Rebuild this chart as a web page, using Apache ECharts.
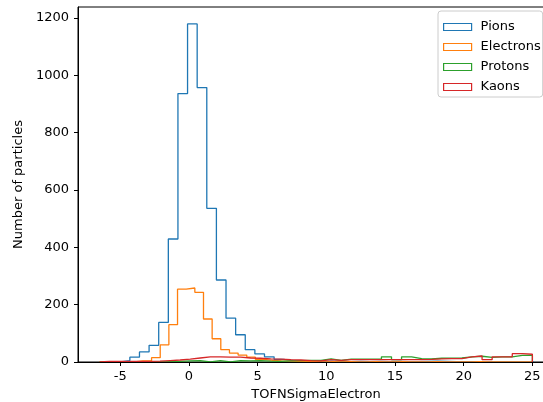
<!DOCTYPE html>
<html>
<head>
<meta charset="utf-8">
<script src="https://cdn.jsdelivr.net/npm/echarts@6/dist/echarts.min.js"></script>
<style>html,body{margin:0;padding:0;background:#fff}#c{width:543px;height:402px}</style>
</head>
<body>
<div id="c"></div>
<script>
// Series names
const seriesNames = ['Pions', 'Electrons', 'Protons', 'Kaons'];
const seriesColors = ['#1f77b4', '#ff7f0e', '#2ca02c', '#d62728'];

// Bin layouts (first edge, bin width) for each histogram
const pionBins = { start: -5.0, width: 0.7 };
const electronBins = { start: -6.5, width: 0.63 };
const protonBins = { start: -6.5, width: 0.7326 };
const kaonBins = { start: -6.5, width: 0.7326 };

// Counts per bin
const pionCounts = [5, 17, 35, 58, 138, 429, 936, 1179, 957, 536, 286, 153, 95, 43, 28, 18, 9, 5, 4, 3, 2, 3, 2, 1, 2, 1, 2, 1, 2, 1, 1, 2, 3, 2, 1, 1, 1, 1, 0, 1, 1, 1, 1];
const electronCounts = [0, 0, 1, 0, 4, 4, 15, 60, 130, 254, 258, 243, 150, 81, 43, 31, 24, 17, 9, 6, 4, 3, 2, 1, 1, 0, 1, 0, 1, 0, 0, 1, 0, 0, 1, 0, 0, 0, 1, 0, 0, 0, 0, 1, 0, 0, 0, 0, 0, 0];
const protonCounts = [0, 0, 0, 0, 1, 0, 1, 2, 4, 5, 0, 5, 0, 5, 4, 5, 3, 2, 4, 5, 6, 6, 11, 6, 10, 10, 10, 10, 18, 8, 18, 12, 11, 13, 13, 14, 18, 20, 16, 18, 18, 23, 23];
const kaonCounts = [2, 2, 2, 2, 2, 3, 5, 7, 10, 14, 18, 18, 17, 17, 14, 13, 11, 10, 8, 7, 5, 4, 8, 6, 8, 8, 8, 8, 8, 8, 8, 8, 9, 11, 12, 12, 18, 21, 8, 18, 18, 29, 27];

// Axis ticks
const xTicks = [-5, 0, 5, 10, 15, 20, 25];
const yTicks = [0, 200, 400, 600, 800, 1000, 1200];

function stepPoints(bins, counts) {
  const pts = [[bins.start, 0]];
  counts.forEach(function (c, i) {
    const x0 = bins.start + i * bins.width;
    pts.push([x0, c], [x0 + bins.width, c]);
  });
  pts.push([bins.start + counts.length * bins.width, 0]);
  return pts;
}

const allBins = [pionBins, electronBins, protonBins, kaonBins];
const allCounts = [pionCounts, electronCounts, protonCounts, kaonCounts];

// matplotlib-like 5% margins
let dMin = Infinity, dMax = -Infinity, cMax = 0;
allBins.forEach(function (b, i) {
  dMin = Math.min(dMin, b.start);
  dMax = Math.max(dMax, Math.min(25, b.start + allCounts[i].length * b.width));
  cMax = Math.max(cMax, Math.max.apply(null, allCounts[i]));
});
const span = dMax - dMin;
const xMin = dMin - 0.05 * span;
const xMax = dMax + 0.05 * span;
const yMax = cMax * 1.05;

const font = 'DejaVu Sans';
const chart = echarts.init(document.getElementById('c'), null, { renderer: 'canvas' });
chart.setOption({
  animation: false,
  backgroundColor: '#fff',
  grid: { left: 78, width: 476, top: 7, bottom: 40, show: true, borderColor: '#000', borderWidth: 1, backgroundColor: 'transparent', containLabel: false, outerBoundsMode: 'none' },
  legend: {
    orient: 'vertical',
    left: 438,
    top: 11,
    padding: [9, 2, 3, 5],
    itemWidth: 28,
    itemHeight: 7,
    itemGap: 6,
    backgroundColor: '#fff',
    borderColor: '#cccccc',
    borderWidth: 1,
    borderRadius: 3,
    textStyle: { fontFamily: font, fontSize: 13, color: '#000', lineHeight: 14, padding: [0, 0, 0, 4] },
    data: seriesNames.map(function (n, i) {
      return { name: n, icon: 'rect', itemStyle: { color: '#fff', borderColor: seriesColors[i], borderWidth: 1.2 } };
    })
  },
  xAxis: {
    type: 'value',
    min: xMin,
    max: xMax,
    z: 5,
    name: 'TOFNSigmaElectron',
    nameLocation: 'middle',
    nameGap: 26,
    nameTextStyle: { fontFamily: font, fontSize: 13, color: '#000' },
    axisLine: { show: true, onZero: false, lineStyle: { color: '#000', width: 1 } },
    axisTick: { show: true, length: 4, lineStyle: { color: '#000' }, customValues: xTicks },
    axisLabel: { fontFamily: font, fontSize: 13, color: '#000', margin: 8, customValues: xTicks },
    splitLine: { show: false }
  },
  yAxis: {
    type: 'value',
    min: 0,
    max: yMax,
    z: 5,
    name: 'Number of particles',
    nameLocation: 'middle',
    nameGap: 44,
    nameTextStyle: { fontFamily: font, fontSize: 13, color: '#000' },
    axisLine: { show: true, onZero: false, lineStyle: { color: '#000', width: 1 } },
    axisTick: { show: true, length: 4, lineStyle: { color: '#000' }, customValues: yTicks },
    axisLabel: { fontFamily: font, fontSize: 13, color: '#000', margin: 9, customValues: yTicks, formatter: function (v) { return String(v); } },
    splitLine: { show: false }
  },
  series: seriesNames.map(function (n, i) {
    return {
      name: n,
      type: 'line',
      data: stepPoints(allBins[i], allCounts[i]),
      showSymbol: false,
      symbol: 'none',
      clip: true,
      color: seriesColors[i],
      lineStyle: { color: seriesColors[i], width: 1.3 },
      emphasis: { disabled: true }
    };
  })
});
</script>
</body>
</html>
